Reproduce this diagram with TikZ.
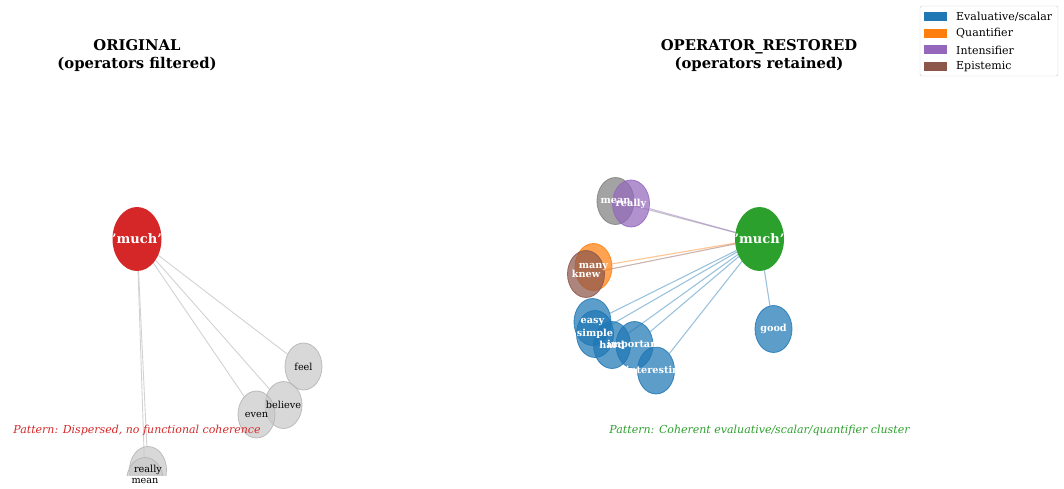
\documentclass[tikz,border=0pt]{standalone}
\usepackage{fontspec}
\setmainfont{DejaVu Serif}
\usetikzlibrary{shapes.geometric}
\pgfdeclarelayer{background}
\pgfsetlayers{background,main}
\definecolor{cred}{HTML}{D62728}
\definecolor{cgreen}{HTML}{2CA02C}
\definecolor{cblue}{HTML}{1F77B4}
\definecolor{corange}{HTML}{FF7F0E}
\definecolor{cpurple}{HTML}{9467BD}
\definecolor{cbrown}{HTML}{8C564B}
\definecolor{cgray}{HTML}{7F7F7F}
\definecolor{lgray}{HTML}{C8C8C8}
\definecolor{lgrayedge}{HTML}{B4B4B4}
\definecolor{edgegray}{HTML}{D2D2D2}
\begin{document}
\begin{tikzpicture}[x=1pt,y=-1pt,
  bubble/.style={ellipse, inner sep=0pt, minimum width=37pt, minimum height=47pt,
    fill opacity=0.72, draw opacity=0.85, line width=0.8pt},
  hub/.style={ellipse, inner sep=0pt, minimum width=49pt, minimum height=64pt},
  grayb/.style={bubble, fill=lgray, draw=lgrayedge, fill opacity=0.7},
  colb/.style={bubble, fill=#1, draw=#1},
  plainlbl/.style={inner sep=0pt, font=\fontsize{9.7}{11}\selectfont, text=black},
  boldlbl/.style={inner sep=0pt, font=\fontsize{9.7}{11}\selectfont\bfseries, text=white},
  hublbl/.style={inner sep=0pt, font=\fontsize{13}{15}\selectfont\bfseries, text=white},
  title/.style={align=center, inner sep=0pt, font=\fontsize{14.8}{18}\selectfont\bfseries},
  pattern/.style={inner sep=0pt, font=\fontsize{11}{13}\selectfont\itshape},
  grayedge/.style={draw=edgegray, line width=0.9pt},
  coledge/.style={draw=#1, draw opacity=0.45, line width=1.1pt},
  legtext/.style={inner sep=0pt, anchor=west, font=\fontsize{11}{13}\selectfont},
  legpatch/.style={minimum width=23pt, minimum height=9pt, inner sep=0pt, fill=#1, draw=none}
]
\useasboundingbox (0,0) rectangle (1064,489);

% ---------- left panel: operators filtered ----------
\node[title] (tl) at (137,56) {ORIGINAL\\(operators filtered)};

\begin{scope}
  \clip (0,0) rectangle (530,475);
  \node[hub, fill=cred] (lmuch) at (137,239) {};
  \node[grayb] (lfeel) at (303.5,366.5) {};
  \node[grayb] (lbelieve) at (283.5,405) {};
  \node[grayb] (leven) at (256.5,414.5) {};
  \node[grayb] (lreally) at (148,470) {};
  \node[grayb] (lmean) at (145,481) {};
\end{scope}

\node[hublbl] (lmuchl) at (lmuch) {'much'};
\node[plainlbl] (lfeell) at (lfeel) {feel};
\node[plainlbl] (lbelievel) at (lbelieve) {believe};
\node[plainlbl] (levenl) at (leven) {even};
\node[plainlbl] (lreallyl) at (lreally) {really};
\node[plainlbl] (lmeanl) at (lmean) {mean};

\node[pattern, text=cred] (lpat) at (137,430) {Pattern: Dispersed, no functional coherence};

% ---------- right panel: operators retained ----------
\node[title] (tr) at (759,56) {OPERATOR\_RESTORED\\(operators retained)};

\node[hub, fill=cgreen] (rmuch) at (759.5,239) {};
\node[colb=cgray] (rmean) at (615.5,201) {};
\node[colb=cpurple] (rreally) at (631,203.5) {};
\node[colb=corange] (rmany) at (593.5,267) {};
\node[colb=cbrown] (rknew) at (586,274) {};
\node[colb=cblue] (reasy) at (592.5,322) {};
\node[colb=cblue] (rsimple) at (595,334) {};
\node[colb=cblue] (rhard) at (612,345) {};
\node[colb=cblue] (rimportant) at (634.5,345) {};
\node[colb=cblue] (rinteresting) at (656,370.5) {};
\node[colb=cblue] (rgood) at (773.5,329) {};

\node[hublbl] (rmuchl) at (rmuch) {'much'};
\node[boldlbl] (rmeanl) at (rmean) {mean};
\node[boldlbl] (rreallyl) at (rreally) {really};
\node[boldlbl] (rmanyl) at (rmany) {many};
\node[boldlbl] (rknewl) at (rknew) {knew};
\node[boldlbl] (reasyl) at (reasy) {easy};
\node[boldlbl] (rsimplel) at (rsimple) {simple};
\node[boldlbl] (rhardl) at (rhard) {hard};
\node[boldlbl] (rimportantl) at (rimportant) {important};
\node[boldlbl] (rinterestingl) at (rinteresting) {interesting};
\node[boldlbl] (rgoodl) at (rgood) {good};

\node[pattern, text=cgreen] (rpat) at (759.5,430) {Pattern: Coherent evaluative/scalar/quantifier cluster};

% ---------- legend ----------
\node[draw=black!20, fill=white, rounded corners=2pt, minimum width=138pt, minimum height=70pt, inner sep=0pt] (legend) at (989,41) {};
\node[legpatch=cblue] (p1) at (935.5,17) {};
\node[legpatch=corange] (p2) at (935.5,33.5) {};
\node[legpatch=cpurple] (p3) at (935.5,50) {};
\node[legpatch=cbrown] (p4) at (935.5,66.5) {};
\node[legtext] (t1) at (956,17) {Evaluative/scalar};
\node[legtext] (t2) at (956,33.5) {Quantifier};
\node[legtext] (t3) at (956,50) {Intensifier};
\node[legtext] (t4) at (956,66.5) {Epistemic};

% ---------- connectors (behind the bubbles) ----------
\begin{pgfonlayer}{background}
  \begin{scope}
    \clip (0,0) rectangle (530,475);
    \draw[grayedge] (lmuch) -- (lfeel);
    \draw[grayedge] (lmuch) -- (lbelieve);
    \draw[grayedge] (lmuch) -- (leven);
    \draw[grayedge] (lmuch) -- (lreally);
    \draw[grayedge] (lmuch) -- (lmean);
  \end{scope}
  \draw[coledge=cgray] (rmuch) -- (rmean);
  \draw[coledge=cpurple] (rmuch) -- (rreally);
  \draw[coledge=corange] (rmuch) -- (rmany);
  \draw[coledge=cbrown] (rmuch) -- (rknew);
  \draw[coledge=cblue] (rmuch) -- (reasy);
  \draw[coledge=cblue] (rmuch) -- (rsimple);
  \draw[coledge=cblue] (rmuch) -- (rhard);
  \draw[coledge=cblue] (rmuch) -- (rimportant);
  \draw[coledge=cblue] (rmuch) -- (rinteresting);
  \draw[coledge=cblue] (rmuch) -- (rgood);
\end{pgfonlayer}
\end{tikzpicture}
\end{document}
